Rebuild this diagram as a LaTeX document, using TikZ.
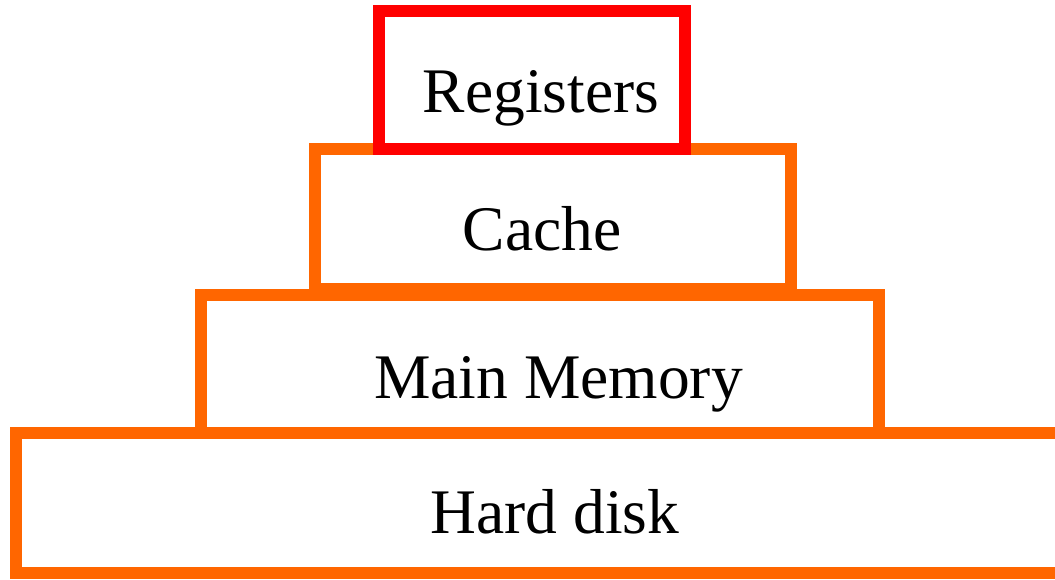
\documentclass[tikz,border=0pt]{standalone}
\usepackage{fontspec}
\setmainfont{Liberation Serif}
\usetikzlibrary{shadows}
\definecolor{levelorange}{RGB}{255,102,0}
\definecolor{levelred}{RGB}{255,0,0}
\tikzset{
  level/.style={rectangle, draw=levelorange, fill=white, line width=12pt,
    inner sep=0pt, outer sep=0pt,
    drop shadow={opacity=0.18, shadow xshift=2pt, shadow yshift=-3pt}},
  toplevel/.style={level, draw=levelred},
  levellabel/.style={anchor=base, font=\fontsize{63.5}{68}\selectfont, inner sep=0pt}
}
\begin{document}
\begin{tikzpicture}[x=1pt, y=-1pt]
  \useasboundingbox (0,0) rectangle (1055,579);
  % memory hierarchy, drawn from the bottom level up
  \node (disk)  [level, minimum width=1045pt, minimum height=140pt] at (538.5,503) {};
  \node (mem)   [level, minimum width=677.5pt, minimum height=138.5pt] at (539.75,363.75) {};
  \node (cache) [level, minimum width=476.5pt, minimum height=140pt] at (552.75,219) {};
  \node (reg)   [toplevel, minimum width=306pt, minimum height=138.5pt] at (532,79.75) {};
  % level names
  \node (disktext)  [levellabel] at (555,533) {Hard disk};
  \node (memtext)   [levellabel] at (558.5,398) {Main Memory};
  \node (cachetext) [levellabel] at (542,250) {Cache};
  \node (regtext)   [levellabel] at (541,112) {Registers};
\end{tikzpicture}
\end{document}
